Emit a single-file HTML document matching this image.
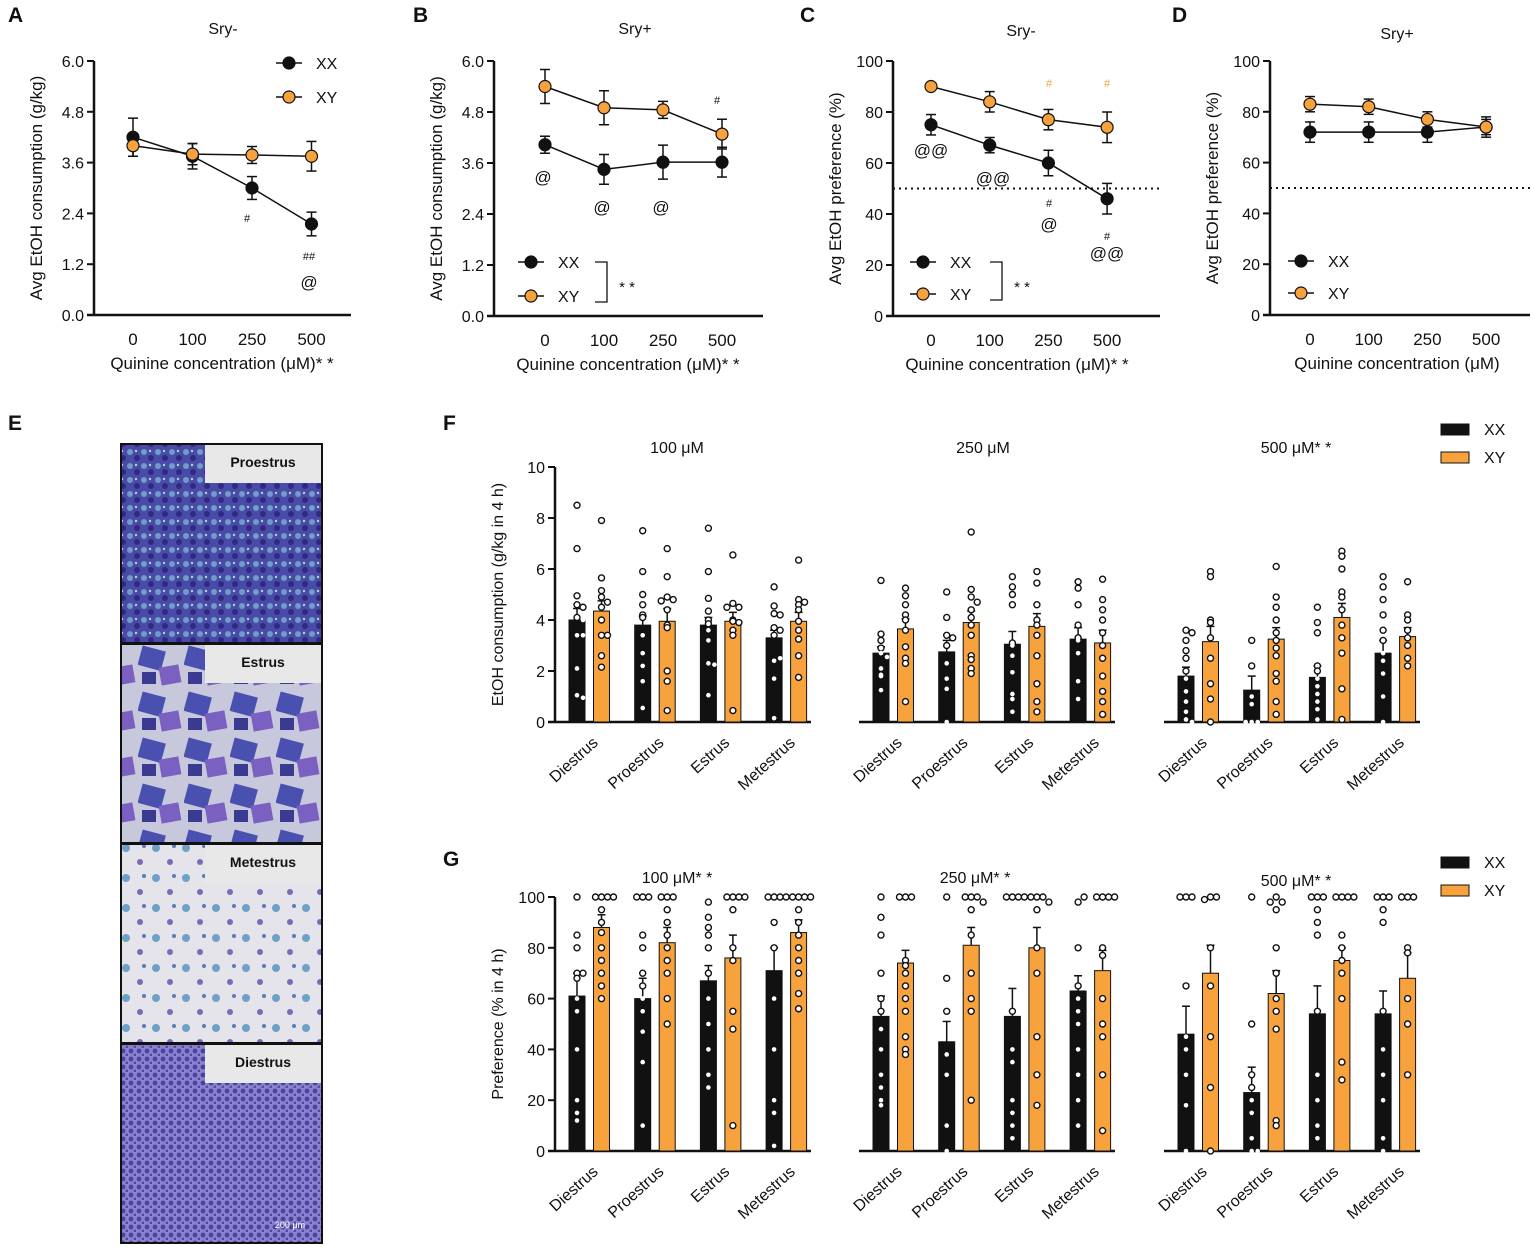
<!DOCTYPE html>
<html><head><meta charset="utf-8">
<style>
html,body{margin:0;padding:0;background:#fff;}
svg{display:block;font-family:"Liberation Sans",Arial,sans-serif;}
</style></head>
<body>
<svg id="fig" width="1535" height="1247" viewBox="0 0 1535 1247" xmlns="http://www.w3.org/2000/svg">
<defs>
<pattern id="p1" width="14" height="14" patternUnits="userSpaceOnUse"><rect width="14" height="14" fill="#4a4aa8"/><circle cx="4" cy="4" r="3" fill="#6f9cc8"/><circle cx="11" cy="10" r="3" fill="#2e2a80"/><circle cx="10" cy="3" r="1.2" fill="#a8d8c8"/></pattern>
<pattern id="p2" width="46" height="46" patternUnits="userSpaceOnUse"><rect width="46" height="46" fill="#c8c8dc"/><rect x="2" y="4" width="24" height="20" fill="#4a50b0" transform="rotate(15 13 13)"/><rect x="22" y="22" width="20" height="18" fill="#7a60c0" transform="rotate(-10 32 31)"/><rect x="4" y="28" width="14" height="12" fill="#3a3a90"/></pattern>
<pattern id="p3" width="30" height="30" patternUnits="userSpaceOnUse"><rect width="30" height="30" fill="#e4e4ea"/><circle cx="6" cy="8" r="4" fill="#6fa0c8"/><circle cx="20" cy="22" r="3" fill="#7a6ab8"/><circle cx="24" cy="6" r="2" fill="#5a7ab8"/></pattern>
<pattern id="p4" width="8" height="8" patternUnits="userSpaceOnUse"><rect width="8" height="8" fill="#8a84c8"/><circle cx="3" cy="3" r="2.4" fill="#4a3ea8"/><circle cx="7" cy="7" r="1.5" fill="#5548b0"/></pattern>
</defs>
<g id="root"></g>
</svg>
<script>
// ===== Panel A-D data =====
const concCats = ["0","100","250","500"];
const aXX = [4.2,3.75,3.0,2.15], aXXerr=[0.45,0.3,0.27,0.28];
const aXY = [4.0,3.8,3.78,3.75], aXYerr=[0.25,0.25,0.2,0.35];
const bXX = [4.03,3.45,3.62,3.62], bXXerr=[0.2,0.35,0.4,0.35];
const bXY = [5.4,4.9,4.85,4.28], bXYerr=[0.4,0.4,0.2,0.35];
const cXX = [75,67,60,46], cXXerr=[4,3,5,6];
const cXY = [90,84,77,74], cXYerr=[1,4,4,6];
const dXX = [72,72,72,74], dXXerr=[4,4,4,4];
const dXY = [83,82,77,74], dXYerr=[3,3,3,3];
const consTicks = ["0.0","1.2","2.4","3.6","4.8","6.0"];
const prefTicks = ["0","20","40","60","80","100"];
// ===== Panel F/G data =====
const phases = ["Diestrus","Proestrus","Estrus","Metestrus"];
const fTicks = ["0","2","4","6","8","10"];
const gTicks = ["0","20","40","60","80","100"];
const f100XX=[4.0,3.8,3.8,3.3], f100XY=[4.35,3.95,3.95,3.95];
const f250XX=[2.7,2.75,3.05,3.25], f250XY=[3.65,3.9,3.75,3.1];
const f500XX=[1.8,1.25,1.75,2.7], f500XY=[3.15,3.25,4.1,3.35];
const fErrXX=[[0.45,0.35,0.3,0.3],[0.25,0.45,0.5,0.45],[0.35,0.55,0.45,0.5]];
const fErrXY=[[0.4,0.5,0.35,0.35],[0.4,0.45,0.5,0.5],[0.6,0.45,0.55,0.35]];
const g100XX=[61,60,67,71], g100XY=[88,82,76,86];
const g250XX=[53,43,53,63], g250XY=[74,81,80,71];
const g500XX=[46,23,54,54], g500XY=[70,62,75,68];
const gErrXX=[[9,8,6,9],[8,8,11,6],[11,10,11,9]];
const gErrXY=[[5,6,9,5],[5,7,8,8],[11,9,5,10]];
const fDots100XX=[[8.5,6.8,4.95,4.6,4.5,4.1,4.0,3.4,3.4,2.1,1.05,0.95],[7.5,5.9,5.0,4.6,4.2,4.1,3.4,2.7,2.2,1.6,0.55],[7.6,5.9,4.85,4.35,4.0,3.85,3.6,3.2,2.3,2.25,1.05],[5.3,4.55,4.25,4.2,3.7,3.6,3.4,2.4,2.5,1.7,0.15]];
const fDots100XY=[[7.9,5.65,5.15,4.9,4.7,4.5,4.0,3.4,3.4,2.6,2.15],[6.8,5.7,4.9,4.8,4.75,4.4,3.8,3.7,2.0,1.6,0.45],[6.55,4.65,4.5,4.5,4.0,3.95,3.9,3.6,3.4,0.45],[6.35,4.8,4.7,4.6,4.4,3.95,3.6,3.25,2.6,1.75]];
const fDots250XX=[[5.55,3.45,3.2,2.9,2.7,2.55,2.1,1.85,1.8,1.25],[5.1,4.1,3.4,3.3,3.0,2.3,1.7,1.3,0.0],[5.7,5.3,5.0,4.6,3.1,3.0,2.6,1.95,1.1,0.9,0.4],[5.5,5.25,4.6,3.8,3.3,3.2,2.7,1.6,0.9]];
const fDots250XY=[[5.25,4.95,4.6,4.2,4.0,3.6,2.95,2.5,2.3,0.8],[7.45,5.2,4.9,4.7,4.4,4.1,3.8,3.4,2.6,2.45,2.1,1.9],[5.9,5.45,4.6,4.0,3.8,3.4,2.6,1.5,0.8,0.4],[5.6,4.8,4.4,4.0,3.5,3.0,2.5,1.8,1.2,0.8,0.3]];
const fDots500XX=[[3.6,3.5,3.2,2.8,2.5,2.0,1.7,1.2,0.8,0.4,0.1,0.0],[3.2,2.2,1.0,0.7,0.0,0.0,0.0],[4.5,3.9,3.5,2.2,2.0,1.7,1.4,1.1,0.8,0.5,0.1],[5.7,5.3,4.8,4.2,3.6,3.2,2.7,2.4,1.9,1.0,0.0]];
const fDots500XY=[[5.9,5.7,4.0,3.9,3.3,2.5,1.5,0.9,0.0],[6.1,4.9,4.5,4.0,3.5,3.2,2.9,2.6,1.9,1.6,0.8,0.3],[6.7,6.5,6.0,5.1,4.9,4.4,3.8,3.3,2.7,1.3,0.1],[5.5,4.2,4.0,3.6,3.3,3.0,2.5,2.2]];
const gDots100XX=[[100,85,80,70,70,68,60,55,40,20,15,12],[100,100,100,85,80,70,65,60,55,47,35,10],[98,92,88,85,80,70,60,50,40,30,25],[100,100,100,100,90,80,60,40,20,15,2]];
const gDots100XY=[[100,100,100,100,95,90,86,80,75,70,65,60],[100,100,100,95,90,85,80,75,70,60,50],[100,100,100,100,95,80,75,55,48,10],[100,100,100,100,95,90,85,80,75,70,62,56]];
const gDots250XX=[[100,92,85,70,60,55,48,40,30,25,20,18],[100,68,55,38,30,10,0],[100,100,100,100,55,40,35,20,15,10,5],[98,100,80,65,60,55,50,40,30,20,10]];
const gDots250XY=[[100,100,100,75,73,70,65,60,55,45,40,38],[100,100,100,98,95,85,70,60,55,20],[100,100,100,98,95,80,70,45,30,18],[100,100,100,100,80,77,60,50,45,30,8]];
const gDots500XX=[[100,100,100,65,45,40,30,18,0],[100,50,30,25,20,15,5,0,0],[100,100,100,95,90,85,55,30,20,10,5],[100,100,100,95,90,55,40,30,20,5,0]];
const gDots500XY=[[100,100,99,80,65,45,25,0],[100,98,98,95,80,70,60,55,48,12,10],[100,100,100,100,85,80,75,70,60,35,28],[100,100,100,80,78,60,50,30]];

const NS="http://www.w3.org/2000/svg";
const root=document.getElementById('root');
function mk(tag,attrs,parent){const e=document.createElementNS(NS,tag);for(const k in attrs)e.setAttribute(k,attrs[k]);(parent||root).appendChild(e);return e;}
function txt(s,x,y,size,anchor,parent,extra){const t=mk('text',Object.assign({x:x,y:y,'font-size':size,'text-anchor':anchor||'middle',fill:'#111'},extra||{}),parent);t.textContent=s;return t;}
const ORANGE="#f7a23c";

// Panel letters
[["A",8,22],["B",413,22],["C",800,22],["D",1172,22],["E",8,430],["F",443,430],["G",443,866]].forEach(p=>{
  const t=txt(p[0],p[1],p[2],21,'start',root,{'font-weight':'bold'});
  
  
});

// ===== Line panels =====
function linePanel(cfg){
  const g=mk('g',{});
  
  
  const y=v=>cfg.y0-(v-cfg.vmin)/(cfg.vmax-cfg.vmin)*(cfg.y0-cfg.y1);
  const x=i=>cfg.xs[0]+i*cfg.dx;
  mk('line',{x1:cfg.ax,y1:cfg.y1,x2:cfg.ax,y2:cfg.y0,stroke:'#111','stroke-width':2.5},g);
  mk('line',{x1:cfg.ax-7,y1:cfg.y0,x2:cfg.axEnd,y2:cfg.y0,stroke:'#111','stroke-width':2.5},g);
  cfg.ticks.forEach((tl,i)=>{const v=cfg.vmin+i*(cfg.vmax-cfg.vmin)/(cfg.ticks.length-1);const yy=y(v);
    mk('line',{x1:cfg.ax-7,y1:yy,x2:cfg.ax,y2:yy,stroke:'#111','stroke-width':2},g);
    const t=txt(tl,cfg.ax-10,yy+6,16,'end',g);});
  concCats.forEach((c,i)=>{const t=txt(c,x(i),cfg.y0+30,17,'middle',g);});
  const yt=txt(cfg.ytitle,0,0,17,'middle',g,{transform:`translate(${cfg.ax-52},${(cfg.y0+cfg.y1)/2}) rotate(-90)`});
  
  const xt=txt(cfg.xtitle,cfg.xtx,cfg.y0+54,17,'middle',g);
  
  const tt=txt(cfg.title,cfg.tx,cfg.ty,16,'middle',g);
  
  if(cfg.dotted!==undefined){mk('line',{x1:cfg.ax,y1:y(cfg.dotted),x2:cfg.axEnd,y2:y(cfg.dotted),stroke:'#111','stroke-width':2,'stroke-dasharray':'2,4'},g);}
  [[cfg.xx,cfg.xxe,'#111','xx'],[cfg.xy,cfg.xye,ORANGE,'xy']].forEach(s=>{
    const pts=s[0].map((v,i)=>x(i)+','+y(v)).join(' ');
    const pl=mk('polyline',{points:pts,fill:'none',stroke:'#111','stroke-width':1.5},g);
    
    s[0].forEach((v,i)=>{const xx=x(i);
      mk('line',{x1:xx,y1:y(v-s[1][i]),x2:xx,y2:y(v+s[1][i]),stroke:'#111','stroke-width':1.5},g);
      mk('line',{x1:xx-5,y1:y(v-s[1][i]),x2:xx+5,y2:y(v-s[1][i]),stroke:'#111','stroke-width':1.5},g);
      mk('line',{x1:xx-5,y1:y(v+s[1][i]),x2:xx+5,y2:y(v+s[1][i]),stroke:'#111','stroke-width':1.5},g);
      const c=mk('circle',{cx:xx,cy:y(v),r:6,fill:s[2],stroke:'#111','stroke-width':1.2},g);
      
    });
  });
  const L=cfg.leg;
  [['XX','#111',L.y1],['XY',ORANGE,L.y2]].forEach(l=>{
    const lg=mk('g',{},g);
    mk('line',{x1:L.x,y1:l[2],x2:L.x+26,y2:l[2],stroke:'#111','stroke-width':1.5},lg);
    mk('circle',{cx:L.x+13,cy:l[2],r:6,fill:l[1],stroke:'#111','stroke-width':1.2},lg);
    txt(l[0],L.x+40,l[2]+6,16,'start',lg);
  });
  if(L.br){mk('polyline',{points:`${L.br-12},${L.y1} ${L.br},${L.y1} ${L.br},${L.y2+6} ${L.br-12},${L.y2+6}`,fill:'none',stroke:'#111','stroke-width':1.3},g);
    txt('* *',L.br+20,L.y1+30,15,'middle',g);}
  (cfg.ann||[]).forEach(a=>{const t=txt(a[0],a[1],a[2],a[3],'middle',g,{fill:a[4]||'#111'});});
}
linePanel({name:'panel-a-chart',ax:94,axEnd:351,y0:315,y1:61,vmin:0,vmax:6,ticks:consTicks,xs:[133],dx:59.5,xx:aXX,xxe:aXXerr,xy:aXY,xye:aXYerr,
  ytitle:'Avg EtOH consumption (g/kg)',xtitle:'Quinine concentration (μM)* *',xtx:222,title:'Sry-',tx:223,ty:34,
  leg:{x:276,y1:63,y2:97},ann:[['#',247,222,11],['##',309,260,11],['@',309,288,17]]});
linePanel({name:'panel-b-chart',ax:494,axEnd:763,y0:316,y1:61,vmin:0,vmax:6,ticks:consTicks,xs:[545],dx:59,xx:bXX,xxe:bXXerr,xy:bXY,xye:bXYerr,
  ytitle:'Avg EtOH consumption (g/kg)',xtitle:'Quinine concentration (μM)* *',xtx:628,title:'Sry+',tx:635,ty:34,
  leg:{x:518,y1:262,y2:296,br:607},ann:[['@',543,183,17],['@',602,213,17],['@',661,213,17],['#',717,104,11]]});
linePanel({name:'panel-c-chart',ax:893,axEnd:1160,y0:316,y1:61,vmin:0,vmax:100,ticks:prefTicks,dotted:50,xs:[931],dx:58.7,xx:cXX,xxe:cXXerr,xy:cXY,xye:cXYerr,
  ytitle:'Avg EtOH preference (%)',xtitle:'Quinine concentration (μM)* *',xtx:1017,title:'Sry-',tx:1021,ty:36,
  leg:{x:910,y1:262,y2:294,br:1002},ann:[['@@',931,156,17],['@@',993,184,17],['#',1049,207,11],['@',1049,230,17],['#',1107,240,11],['@@',1107,259,17],['#',1049,87,11,ORANGE],['#',1107,87,11,ORANGE]]});
linePanel({name:'panel-d-chart',ax:1270,axEnd:1530,y0:315,y1:61,vmin:0,vmax:100,ticks:prefTicks,dotted:50,xs:[1310],dx:58.7,xx:dXX,xxe:dXXerr,xy:dXY,xye:dXYerr,
  ytitle:'Avg EtOH preference (%)',xtitle:'Quinine concentration (μM)',xtx:1397,title:'Sry+',tx:1397,ty:39,
  leg:{x:1288,y1:261,y2:293}});

// ===== Panel E images =====
[['Proestrus','url(#p1)',444],['Estrus','url(#p2)',644],['Metestrus','url(#p3)',844],['Diestrus','url(#p4)',1044]].forEach(p=>{
  const g=mk('g',{});
  mk('rect',{x:121,y:p[2],width:201,height:199,fill:p[1],stroke:'#111','stroke-width':2},g);
  mk('rect',{x:205,y:p[2]+1,width:116,height:38,fill:'#e8e8e8'},g);
  txt(p[0],263,p[2]+23,14,'middle',g,{'font-weight':'bold'});
});
txt('200 μm',290,1228,9,'middle',root,{fill:'#fff'});

// ===== Bar panels =====
function barPanel(cfg){
  const g=mk('g',{});
  const y=v=>cfg.y0-v/cfg.vmax*(cfg.y0-cfg.y1);
  if(cfg.yaxis){
    mk('line',{x1:cfg.x0,y1:cfg.y1,x2:cfg.x0,y2:cfg.y0,stroke:'#111','stroke-width':2.5},g);
    cfg.ticks.forEach((tl,i)=>{const v=i*cfg.vmax/(cfg.ticks.length-1);const yy=y(v);
      mk('line',{x1:cfg.x0-7,y1:yy,x2:cfg.x0,y2:yy,stroke:'#111','stroke-width':2},g);
      const t=txt(tl,cfg.x0-10,yy+6,16,'end',g);});
    const yt=txt(cfg.ytitle,0,0,16,'middle',g,{transform:`translate(${cfg.x0-52},${(cfg.y0+cfg.y1)/2}) rotate(-90)`});
    
  }
  mk('line',{x1:cfg.x0-(cfg.yaxis?7:0),y1:cfg.y0,x2:cfg.x0+256,y2:cfg.y0,stroke:'#111','stroke-width':2.5},g);
  const tt=txt(cfg.title,cfg.tx,cfg.ty,16,'middle',g);
  const xc=i=>cfg.x0+22+i*65.7;
  [[cfg.xx,cfg.exx,cfg.dxx,'#111',0,'xx'],[cfg.xy,cfg.exy,cfg.dxy,ORANGE,24.5,'xy']].forEach(s=>{
    s[0].forEach((v,i)=>{const cx=xc(i)+s[4];
      const b=mk('rect',{x:cx-8,y:y(v),width:16,height:cfg.y0-y(v),fill:s[3],stroke:'#111','stroke-width':1},g);
      
      mk('line',{x1:cx,y1:y(v),x2:cx,y2:y(v+s[1][i]),stroke:'#111','stroke-width':1.5},g);
      mk('line',{x1:cx-4,y1:y(v+s[1][i]),x2:cx+4,y2:y(v+s[1][i]),stroke:'#111','stroke-width':1.5},g);
      const pts=s[2][i];const seen={};
      pts.forEach(p=>{const k=Math.round(y(p)/6);seen[k]=(seen[k]||0)+1;const n=seen[k];
        const off=n===1?0:(n%2===0?1:-1)*Math.ceil((n-1)/2)*6;
        const inside=p<=v&&s[5]==='xx';
        const d=mk('circle',{cx:cx+off,cy:y(p),r:inside?2.3:3,fill:'#fff',stroke:inside?'none':'#111','stroke-width':1.4},g);
        
      });
    });
  });
  phases.forEach((p,i)=>{const t=txt(p,0,0,16,'end',g,{transform:`translate(${xc(i)+22},${cfg.y0+22}) rotate(-42)`});
    });
}
const fy0=722,fy1=467,gy0=1151,gy1=897;
barPanel({name:'panel-f-100',x0:555,yaxis:true,y0:fy0,y1:fy1,vmax:10,ticks:fTicks,ytitle:'EtOH consumption (g/kg in 4 h)',title:'100 μM',tx:677,ty:453,xx:f100XX,xy:f100XY,exx:fErrXX[0],exy:fErrXY[0],dxx:fDots100XX,dxy:fDots100XY});
barPanel({name:'panel-f-250',x0:859,y0:fy0,y1:fy1,vmax:10,title:'250 μM',tx:983,ty:453,xx:f250XX,xy:f250XY,exx:fErrXX[1],exy:fErrXY[1],dxx:fDots250XX,dxy:fDots250XY});
barPanel({name:'panel-f-500',x0:1164,y0:fy0,y1:fy1,vmax:10,title:'500 μM* *',tx:1296,ty:453,xx:f500XX,xy:f500XY,exx:fErrXX[2],exy:fErrXY[2],dxx:fDots500XX,dxy:fDots500XY});
barPanel({name:'panel-g-100',x0:555,yaxis:true,y0:gy0,y1:gy1,vmax:100,ticks:gTicks,ytitle:'Preference (% in 4 h)',title:'100 μM* *',tx:677,ty:883,xx:g100XX,xy:g100XY,exx:gErrXX[0],exy:gErrXY[0],dxx:gDots100XX,dxy:gDots100XY});
barPanel({name:'panel-g-250',x0:859,y0:gy0,y1:gy1,vmax:100,title:'250 μM* *',tx:975,ty:883,xx:g250XX,xy:g250XY,exx:gErrXX[1],exy:gErrXY[1],dxx:gDots250XX,dxy:gDots250XY});
barPanel({name:'panel-g-500',x0:1164,y0:gy0,y1:gy1,vmax:100,title:'500 μM* *',tx:1296,ty:886,xx:g500XX,xy:g500XY,exx:gErrXX[2],exy:gErrXY[2],dxx:gDots500XX,dxy:gDots500XY});

// Legends F/G
[[424,452],[857,885]].forEach((ys,j)=>{
  [['XX','#111',ys[0]],['XY',ORANGE,ys[1]]].forEach(l=>{
    const lg=mk('g',{});
    mk('rect',{x:1441,y:l[2],width:28,height:11,fill:l[1],stroke:'#111','stroke-width':1},lg);
    txt(l[0],1484,l[2]+11,16,'start',lg);
  });
});
</script>
</body></html>
